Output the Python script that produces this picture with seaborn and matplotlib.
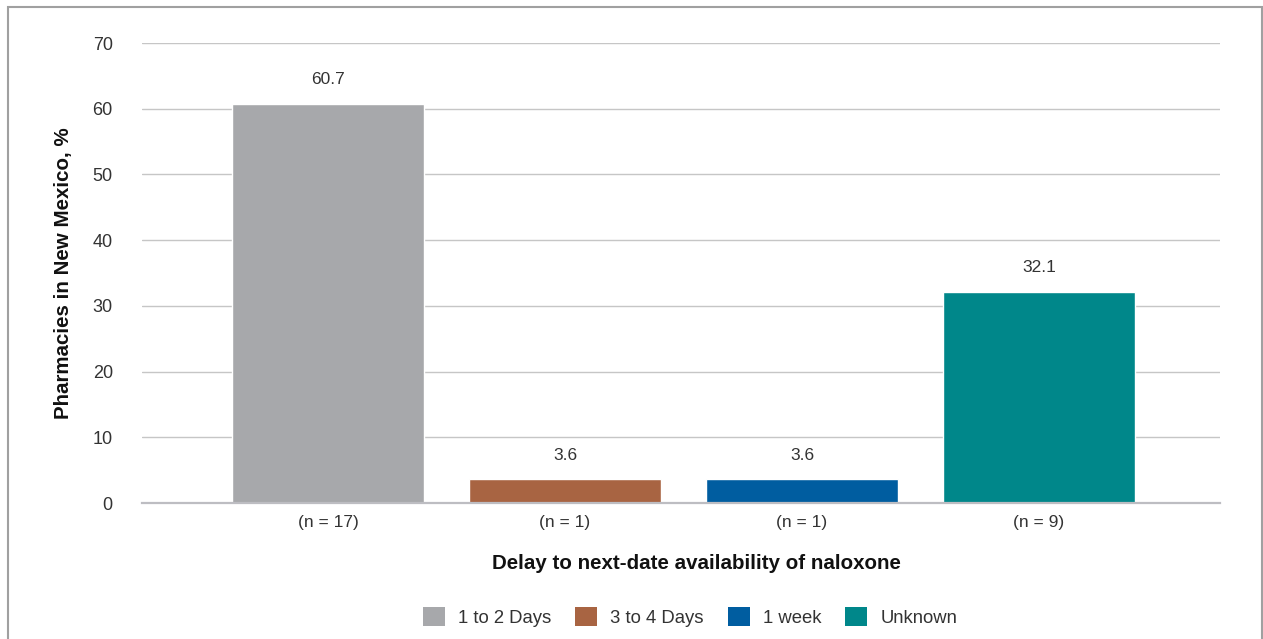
import matplotlib
matplotlib.use("Agg")
import matplotlib.pyplot as plt
import matplotlib.patches as mpatches
import seaborn as sns
import pandas as pd

# ---- data ----
categories = ["1 to 2 Days", "3 to 4 Days", "1 week", "Unknown"]
values = [60.7, 3.6, 3.6, 32.1]
counts = [17, 1, 1, 9]
tick_labels = [f"(n = {n})" for n in counts]
colors = ["#A7A8AB", "#A86442", "#005DA0", "#00878A"]
y_label = "Pharmacies in New Mexico, %"
x_label = "Delay to next-date availability of naloxone"

sns.set_theme(style="white")
plt.rcParams["font.family"] = ["Liberation Sans", "DejaVu Sans"]
text_color = "#333333"

df = pd.DataFrame({"category": categories, "value": values})

W, H = 1263, 639
fig = plt.figure(figsize=(W / 100, H / 100), dpi=100)
ax = fig.add_axes([142 / W, 1 - 503 / H, (1220 - 142) / W, (503 - 43) / H])

sns.barplot(data=df, x="category", y="value", hue="category",
            palette=colors, order=categories, hue_order=categories,
            dodge=False, width=0.81, legend=False, ax=ax, zorder=3,
            saturation=1)

ax.set_ylim(0, 70)
ax.set_yticks(range(0, 71, 10))
ax.set_xlim(-0.785, 3.764)
ax.yaxis.grid(True, color="#C6C6C6", linewidth=1.0, zorder=0)
ax.set_axisbelow(True)
for s in ["left", "right", "top"]:
    ax.spines[s].set_visible(False)
ax.spines["bottom"].set_color("#BDBDC2")
ax.spines["bottom"].set_linewidth(1.6)
ax.spines["bottom"].set_zorder(4)

ax.set_xticks(range(len(categories)))
ax.set_xticklabels(tick_labels)
ax.tick_params(axis="x", length=0, pad=9, labelsize=12.5, labelcolor=text_color)
ax.tick_params(axis="y", length=0, pad=21, labelsize=13, labelcolor=text_color)

ax.set_xlabel(x_label, fontsize=14.8, fontweight="bold", color="#111111", labelpad=17)
ax.xaxis.label.set_x((696 - 142) / (1220 - 142))
ax.set_ylabel(y_label, fontsize=14.8, fontweight="bold", color="#111111", labelpad=14)

for cont in ax.containers:
    ax.bar_label(cont, fmt="%.1f", padding=12, fontsize=12.5, color=text_color)

handles = [mpatches.Patch(facecolor=c, edgecolor="none") for c in colors]
fig.legend(handles, categories, loc="center", bbox_to_anchor=(690 / W, 1 - 617 / H),
           ncol=4, frameon=False, fontsize=13.3, handlelength=1.2, handleheight=1.2,
           handletextpad=0.7, columnspacing=1.3, labelcolor=text_color)

# outer border frame
fig.patches.append(mpatches.Rectangle((8 / W, -0.05), (1262 - 8) / W, 1 - 7 / H + 0.05,
                                      transform=fig.transFigure, fill=False,
                                      edgecolor="#A0A0A0", linewidth=1.5))

fig.savefig("out.png", dpi=100)
